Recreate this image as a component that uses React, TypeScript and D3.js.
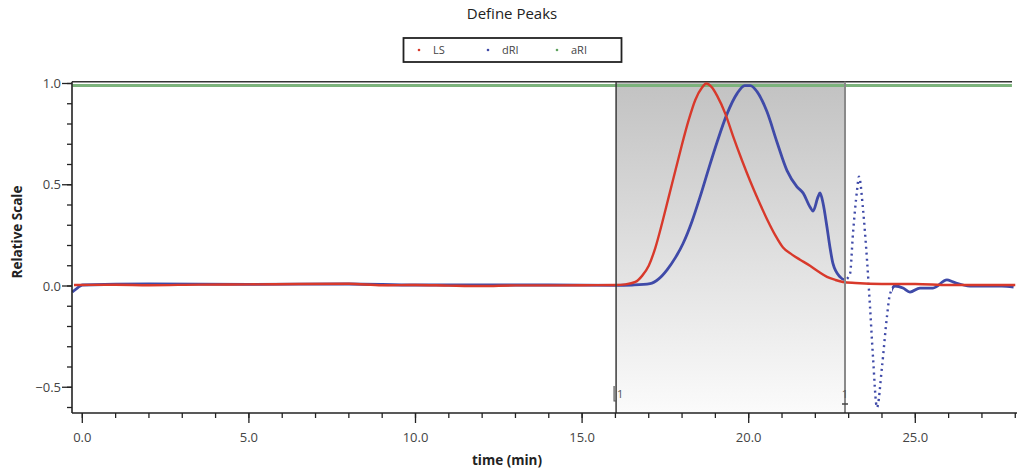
import React from 'react';
import * as d3 from 'd3';

const lsTime = [-0.25, 1, 2, 3.5, 5, 6.5, 8, 9, 10, 11, 12, 13, 14, 15, 16, 16.3, 16.6, 16.8, 17.0, 17.2, 17.4, 17.6, 17.8, 18.0, 18.2, 18.4, 18.6, 18.72, 18.9, 19.05, 19.3, 19.53, 19.8, 20.04, 20.3, 20.55, 20.8, 21.03, 21.3, 21.54, 21.84, 22.1, 22.35, 22.6, 22.83, 23.2, 24, 25, 26, 27, 28];
const lsValue = [0.005, 0.006, 0.004, 0.007, 0.008, 0.01, 0.011, 0.004, 0.005, 0.002, 0.0, 0.003, 0.003, 0.004, 0.005, 0.008, 0.02, 0.05, 0.1, 0.19, 0.31, 0.44, 0.57, 0.7, 0.82, 0.92, 0.98, 1.0, 0.98, 0.94, 0.85, 0.74, 0.62, 0.52, 0.42, 0.33, 0.25, 0.19, 0.155, 0.13, 0.1, 0.07, 0.045, 0.03, 0.02, 0.015, 0.01, 0.01, 0.005, 0.005, 0.005];

const driTime = [-0.3, -0.15, 0, 2, 5, 8, 10, 12, 14, 16, 16.5, 17.04, 17.3, 17.55, 17.8, 18.03, 18.3, 18.54, 18.8, 19.05, 19.35, 19.65, 19.88, 20.05, 20.25, 20.55, 20.85, 21.15, 21.45, 21.63, 21.84, 21.93, 22.08, 22.14, 22.23, 22.35, 22.44, 22.53, 22.74, 22.89, 23.04, 23.13, 23.25, 23.31, 23.43, 23.55, 23.64, 23.73, 23.85, 24.0, 24.15, 24.24, 24.39, 24.63, 24.84, 25.14, 25.53, 25.95, 26.13, 26.64, 27.6, 27.95];
const driValue = [-0.03, -0.01, 0.005, 0.01, 0.008, 0.01, 0.005, 0.005, 0.005, 0.003, 0.005, 0.012, 0.035, 0.08, 0.14, 0.21, 0.32, 0.44, 0.58, 0.71, 0.85, 0.95, 0.99, 0.99, 0.96, 0.86, 0.71, 0.57, 0.49, 0.46, 0.39, 0.37, 0.44, 0.46, 0.41, 0.29, 0.19, 0.11, 0.045, 0.03, 0.06, 0.26, 0.47, 0.54, 0.38, 0.13, -0.1, -0.35, -0.6, -0.4, -0.15, -0.04, 0.0, -0.01, -0.03, -0.01, -0.01, 0.03, 0.02, 0.0, 0.0, -0.005];

const ariTime = [-0.3, 27.9];
const ariValue = [0.99, 0.99];

const xTicks = [0, 5, 10, 15, 20, 25];
const xMinor = d3.range(0, 29, 1);
const yTicks = [-0.5, 0, 0.5, 1.0];
const yMinor = d3.range(-6, 11, 1).map((v) => v / 10);
const peakBounds = [16.02, 22.89];
const dottedRange = [22.92, 24.3];
const legendLabels = ['LS', 'dRI', 'aRI'];
const legendColors = ['#d8392b', '#3f4aa8', '#5fa35f'];

const W = 1017;
const H = 472;
const left = 72, right = 1017, top = 81.7, bottom = 413;
const font = '"Open Sans", "DejaVu Sans", sans-serif';

export default function App() {
  const x = d3.scaleLinear().domain([0, 25]).range([82.3, 915.3]);
  const y = d3.scaleLinear().domain([0, 1]).range([286, 83.5]);

  const line = d3
    .line<[number, number]>()
    .x((d) => x(d[0]))
    .y((d) => y(d[1]))
    .curve(d3.curveMonotoneX);

  const ls = line(lsTime.map((t, i) => [t, lsValue[i]]) as [number, number][]) || '';
  const dri = line(driTime.map((t, i) => [t, driValue[i]]) as [number, number][]) || '';
  const ari = line(ariTime.map((t, i) => [t, ariValue[i]]) as [number, number][]) || '';

  const xd0 = x(dottedRange[0]);
  const xd1 = x(dottedRange[1]);
  const p0 = x(peakBounds[0]);
  const p1 = x(peakBounds[1]);

  const legendX = [419, 488, 557];
  const legendTx = [433, 502, 571];

  return (
    <svg width={W} height={H} style={{ position: 'absolute', left: 0, top: 0, background: '#fff' }}>
      <defs>
        <linearGradient id="shade" x1="0" y1="0" x2="0" y2="1">
          <stop offset="0" stopColor="#c2c2c2" />
          <stop offset="1" stopColor="#fbfbfb" />
        </linearGradient>
        <clipPath id="solidClip">
          <rect x={0} y={0} width={xd0} height={H} />
          <rect x={xd1} y={0} width={W - xd1} height={H} />
        </clipPath>
        <clipPath id="dotClip">
          <rect x={xd0} y={0} width={xd1 - xd0} height={H} />
        </clipPath>
        <clipPath id="plotClip">
          <rect x={left} y={top - 2} width={right - left} height={bottom - top + 2} />
        </clipPath>
      </defs>

      {/* title */}
      <text x={512} y={19} textAnchor="middle" fontFamily={font} fontSize={15} fill="#222">
        Define Peaks
      </text>

      {/* legend */}
      <rect x={403.5} y={38} width={218} height={24} fill="#fff" stroke="#222" strokeWidth={1.8} />
      {legendLabels.map((l, i) => (
        <g key={l}>
          <circle cx={legendX[i]} cy={50} r={1.3} fill={legendColors[i]} />
          <text x={legendTx[i]} y={54} fontFamily={font} fontSize={11} fill="#444">
            {l}
          </text>
        </g>
      ))}

      {/* peak shading */}
      <rect x={p0} y={top} width={p1 - p0} height={bottom - top} fill="url(#shade)" />

      {/* top border */}
      <line x1={left} x2={1012} y1={top} y2={top} stroke="#333" strokeWidth={1.6} />

      <g clipPath="url(#plotClip)">
        <path d={ari} fill="none" stroke="#7cb37c" strokeWidth={3} />
        <path d={dri} fill="none" stroke="#3f4aa8" strokeWidth={2.8} clipPath="url(#solidClip)" />
        <path
          d={dri}
          fill="none"
          stroke="#3f4aa8"
          strokeWidth={2.4}
          strokeDasharray="2 4"
          clipPath="url(#dotClip)"
        />
        <path d={ls} fill="none" stroke="#d8392b" strokeWidth={2.4} />
      </g>

      {/* peak lines */}
      <line x1={p0} x2={p0} y1={top} y2={bottom} stroke="#3a3a3a" strokeWidth={1.5} />
      <line x1={p1} x2={p1} y1={top} y2={bottom} stroke="#8a8a8a" strokeWidth={2} />
      <path d={`M${p0 - 2},${386} V${401} H${p0}`} fill="none" stroke="#555" strokeWidth={1.2} />
      <text x={p0 + 1} y={398} fontFamily={font} fontSize={11} fill="#555">1</text>
      <text x={p1} y={398} textAnchor="middle" fontFamily={font} fontSize={11} fill="#555">1</text>
      <line x1={p1 - 3} x2={p1 + 3} y1={404} y2={404} stroke="#444" strokeWidth={1.5} />

      {/* y axis */}
      <line x1={left} x2={left} y1={top} y2={bottom} stroke="#222" strokeWidth={1.6} />
      {yMinor.map((v) => (
        <line key={'ym' + v} x1={left - 5} x2={left} y1={y(v)} y2={y(v)} stroke="#222" strokeWidth={1.3} />
      ))}
      {yTicks.map((v) => (
        <g key={'y' + v}>
          <line x1={left - 10} x2={left} y1={y(v)} y2={y(v)} stroke="#222" strokeWidth={1.3} />
          <text x={left - 11} y={y(v) + 4.5} textAnchor="end" fontFamily={font} fontSize={13} fill="#444">
            {d3.format('.1f')(v)}
          </text>
        </g>
      ))}

      {/* x axis */}
      <line x1={left} x2={right} y1={bottom} y2={bottom} stroke="#222" strokeWidth={1.6} />
      {xMinor.map((v) => (
        <line key={'xm' + v} x1={x(v)} x2={x(v)} y1={bottom} y2={bottom + 5} stroke="#222" strokeWidth={1.3} />
      ))}
      {xTicks.map((v) => (
        <g key={'x' + v}>
          <line x1={x(v)} x2={x(v)} y1={bottom} y2={bottom + 10} stroke="#222" strokeWidth={1.3} />
          <text x={x(v)} y={442} textAnchor="middle" fontFamily={font} fontSize={13} fill="#444">
            {d3.format('.1f')(v)}
          </text>
        </g>
      ))}

      {/* axis titles */}
      <text x={507} y={465} textAnchor="middle" fontFamily={font} fontSize={13.5} fontWeight="bold" fill="#222">
        time (min)
      </text>
      <text
        transform={`translate(22,232) rotate(-90)`}
        textAnchor="middle"
        fontFamily={font}
        fontSize={13.5}
        fontWeight="bold"
        fill="#222"
      >
        Relative Scale
      </text>
    </svg>
  );
}
